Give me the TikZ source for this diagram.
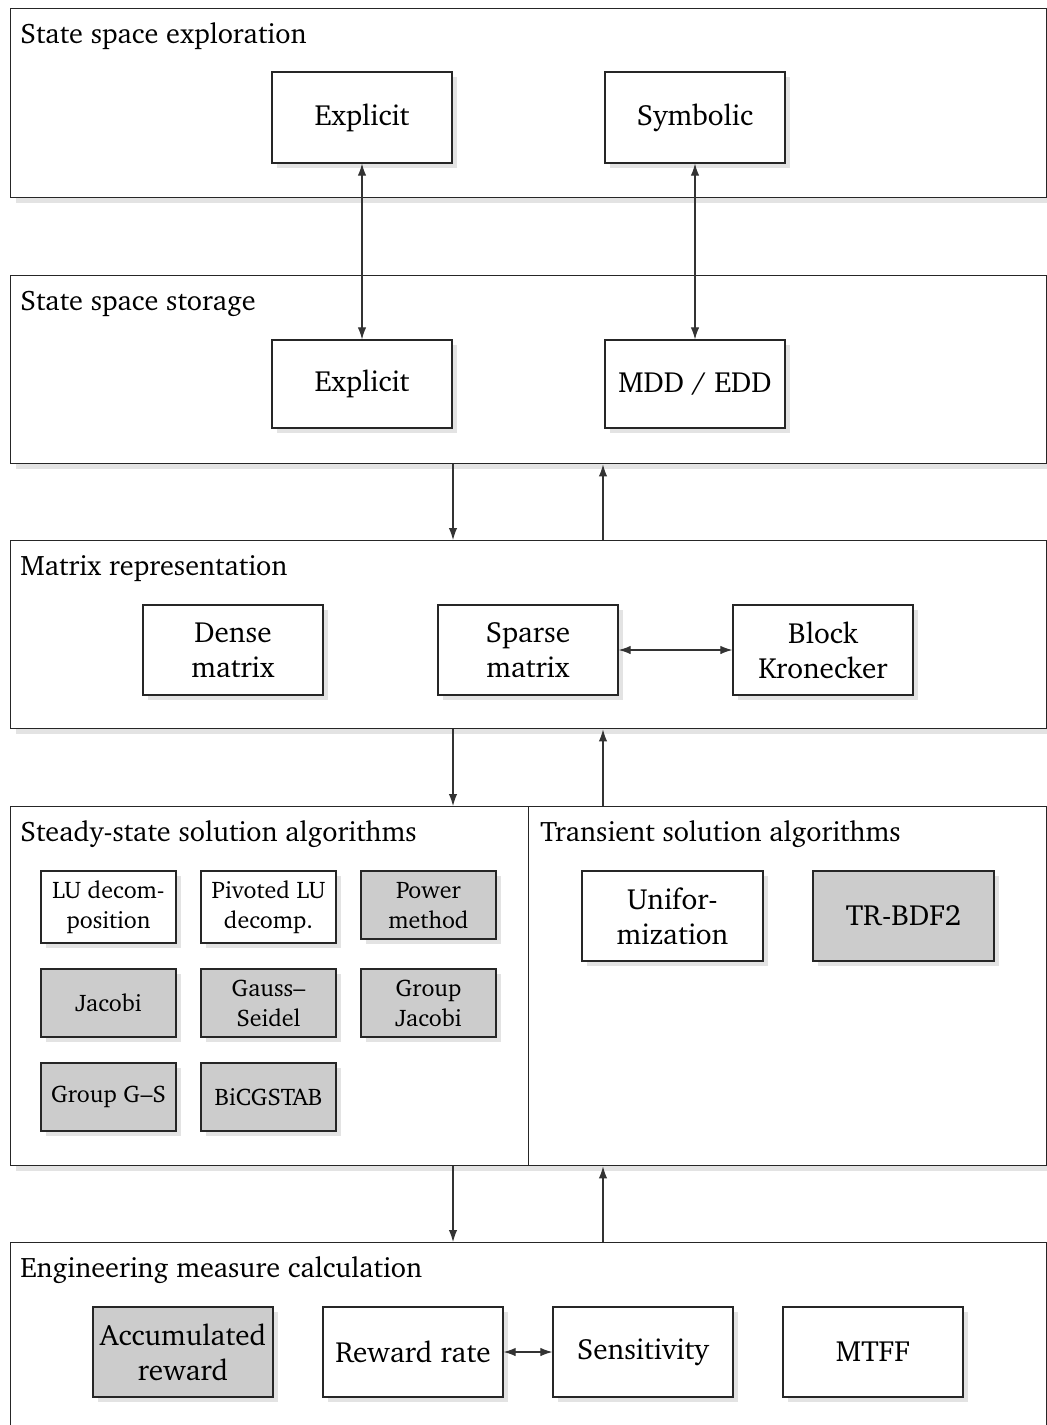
\documentclass[tikz,border=0pt]{standalone}
\usepackage[T1]{fontenc}
\usepackage{charter}
\usetikzlibrary{arrows.meta,shadows}

\begin{document}
\begin{tikzpicture}[x=0.5pt,y=-0.5pt,
  softshadow/.style={drop shadow={shadow xshift=2.5pt,shadow yshift=-2.5pt,fill=black!11,opacity=1}},
  panel/.style={draw=black!85,line width=0.7pt,fill=white,softshadow,inner sep=0pt,anchor=north west},
  title/.style={anchor=base west,inner sep=0pt,font=\fontsize{14.1}{17.5}\selectfont},
  blk/.style={draw=black!85,line width=0.6pt,fill=white,softshadow,inner sep=0pt,
    minimum width=90pt,minimum height=45pt,align=center,font=\fontsize{14.6}{17.5}\selectfont},
  gblk/.style={blk,fill=black!20},
  sblk/.style={blk,minimum width=67.5pt,minimum height=34pt,font=\fontsize{12}{15}\selectfont},
  gsblk/.style={sblk,fill=black!20},
  tip/.style={Latex[length=6pt,width=4.2pt]},
  link/.style={draw=black!80,line width=0.55pt,-{Latex[length=6pt,width=4.2pt]}},
  dlink/.style={draw=black!80,line width=0.55pt,{Latex[length=6pt,width=4.2pt]}-{Latex[length=6pt,width=4.2pt]}}
]
\useasboundingbox (0,0) rectangle (1047,1425);
\clip (0,0) rectangle (1047,1425);

% layer panels
\node[panel,minimum width=518pt,minimum height=94.5pt] (explore) at (10,8) {};
\node[panel,minimum width=518pt,minimum height=94pt] (storage) at (10,275) {};
\node[panel,minimum width=518pt,minimum height=94pt] (matrix) at (10,540) {};
\node[panel,minimum width=259pt,minimum height=179.5pt] (steady) at (10,806) {};
\node[panel,minimum width=259pt,minimum height=179.5pt] (transient) at (528,806) {};
\node[panel,minimum width=518pt,minimum height=100pt] (measure) at (10,1242) {};

% panel titles
\node[title] (exploreT) at (20,43) {State space exploration};
\node[title] (storageT) at (20,310) {State space storage};
\node[title] (matrixT) at (20,575) {Matrix representation};
\node[title] (steadyT) at (20,841) {Steady-state solution algorithms};
\node[title] (transientT) at (540,841) {Transient solution algorithms};
\node[title] (measureT) at (20,1277) {Engineering measure calculation};

% state space exploration
\node[blk,minimum height=45.5pt] (eExp) at (362,117.5) {Explicit};
\node[blk,minimum height=45.5pt] (eSym) at (695,117.5) {Symbolic};

% state space storage
\node[blk,minimum height=44pt] (sExp) at (362,384) {Explicit};
\node[blk,minimum height=44pt] (sMdd) at (695,384) {MDD / EDD};

% matrix representation
\node[blk] (mDense) at (233,650) {Dense\\matrix};
\node[blk] (mSparse) at (528,650) {Sparse\\matrix};
\node[blk] (mBlock) at (823,650) {Block\\Kronecker};

% steady-state solvers
\node[sblk,minimum height=36pt] (lu) at (108.5,907) {LU decom-\\position};
\node[sblk,minimum height=36pt] (plu) at (268.5,907) {Pivoted LU\\decomp.};
\node[gsblk] (power) at (428.5,905) {Power\\method};
\node[gsblk] (jac) at (108.5,1003) {Jacobi};
\node[gsblk] (gs) at (268.5,1003) {Gauss--\\Seidel};
\node[gsblk] (gjac) at (428.5,1003) {Group\\Jacobi};
\node[gsblk] (ggs) at (108.5,1097) {Group G--S};
\node[gsblk] (bicg) at (268.5,1097) {BiCGSTAB};

% transient solvers
\node[blk,minimum width=90.5pt] (unif) at (672.5,916) {Unifor-\\mization};
\node[gblk,minimum width=90.5pt] (trbdf) at (903.5,916) {TR-BDF2};

% measures
\node[gblk] (accum) at (183,1352) {Accumulated\\reward};
\node[blk] (rrate) at (413,1352) {Reward rate};
\node[blk] (sens) at (643,1352) {Sensitivity};
\node[blk] (mtff) at (873,1352) {MTFF};

% columns of the links between layers
\coordinate (downX) at (453,0);
\coordinate (upX) at (603,0);

% connectors
\draw[dlink] (eExp.south) -- (sExp.north);
\draw[dlink] (eSym.south) -- (sMdd.north);
\draw[link] (storage.south -| downX) -- (matrix.north -| downX);
\draw[link] (matrix.north -| upX) -- (storage.south -| upX);
\draw[dlink] (mSparse.east) -- (mBlock.west);
\draw[link] (matrix.south -| downX) -- (steady.north -| downX);
\draw[link] (transient.north -| upX) -- (matrix.south -| upX);
\draw[link] (steady.south -| downX) -- (measure.north -| downX);
\draw[link] (measure.north -| upX) -- (transient.south -| upX);
\draw[dlink] (rrate.east) -- (sens.west);
\end{tikzpicture}
\end{document}
